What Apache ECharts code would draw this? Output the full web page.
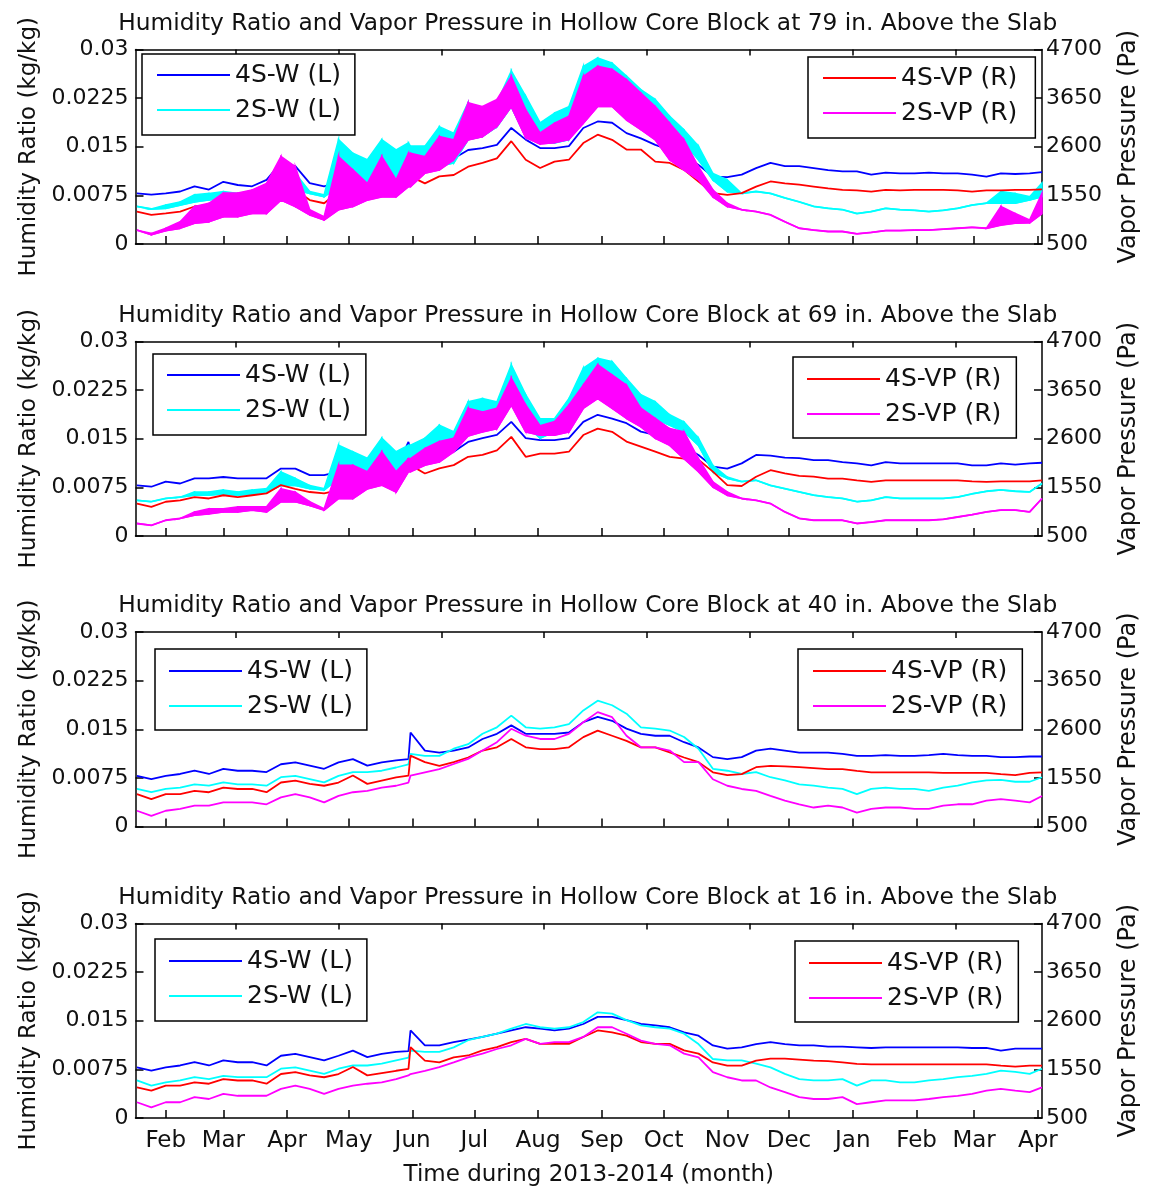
<!DOCTYPE html>
<html>
<head>
<meta charset="utf-8">
<script src="https://cdn.jsdelivr.net/npm/echarts@6/dist/echarts.min.js"></script>
<style>
  html, body { margin: 0; padding: 0; background: #fff; }
  #chart { width: 1152px; height: 1190px; }
</style>
</head>
<body>
<div id="chart"></div>
<script>
// Sample days, counted from 1 Jan 2013 (day 0)
const days = [17,24,31,38,45,52,59,66,73,80,87,94,101,108,115,122,129,136,143,149,150,157,164,171,178,185,192,199,206,213,220,227,234,241,248,255,262,269,276,283,290,297,304,311,318,325,332,339,346,353,360,367,374,381,388,395,402,409,416,423,430,437,444,451,457];

// Month ticks on the time axis (first day of each month)
const monthTickDays = [31,59,90,120,151,181,212,243,273,304,334,365,396,424,455];
const monthLabels = ['Feb','Mar','Apr','May','Jun','Jul','Aug','Sep','Oct','Nov','Dec','Jan','Feb','Mar','Apr'];
// Minor ticks along the top edge (every 50 days)
const topTickDays = [65,115,165,215,265,315,365,415];

// Left axis: humidity ratio (kg/kg); right axis: vapor pressure (Pa)
const wTicks = [0, 0.0075, 0.015, 0.0225, 0.03];
const wTickLabels = ['0', '0.0075', '0.015', '0.0225', '0.03'];
const vpTicks = [500, 1550, 2600, 3650, 4700];
const vpTickLabels = ['500', '1550', '2600', '3650', '4700'];

const sensorHeights = ['79', '69', '40', '16'];

// ---- 79 in. above the slab (2S series show daily swings: low / high envelopes) ----
const w4s79 = [0.0078,0.0076,0.0078,0.0081,0.0089,0.0084,0.0096,0.0091,0.0089,0.0099,0.0125,0.0120,0.0094,0.0089,0.0096,0.0091,0.0102,0.0109,0.0099,
  0.0120,0.0145,
  0.0122,0.0130,0.0132,0.0145,0.0148,0.0153,0.0179,0.0161,0.0148,0.0148,0.0151,0.0179,
  0.0189,0.0187,0.0171,0.0163,0.0153,0.0145,0.0138,0.0122,0.0104,0.0103,
  0.0107,0.0117,0.0125,0.0120,0.0120,0.0117,0.0114,0.0112,0.0112,0.0107,0.0110,0.0109,0.0109,0.0110,0.0109,0.0109,0.0107,0.0104,0.0109,0.0108,0.0109,0.0111];
const w2sLo79 = [0.0058,0.0054,0.0055,0.0060,0.0065,0.0068,0.0071,0.0068,0.0071,0.0073,0.0089,0.0084,0.0078,0.0073,0.0089,0.0084,0.0089,0.0099,0.0104,
  0.0109,0.0109,
  0.0114,0.0120,0.0125,0.0161,0.0166,0.0181,0.0212,0.0166,0.0156,0.0156,0.0161,0.0197,
  0.0238,0.0228,0.0207,0.0192,0.0181,0.0166,0.0156,0.0130,0.0099,0.0081,
  0.0078,0.0081,0.0078,0.0071,0.0065,0.0058,0.0055,0.0053,0.0047,0.0050,0.0055,0.0053,0.0052,0.0050,0.0052,0.0055,0.0060,0.0063,0.0063,0.0063,0.0068,0.0073];
const w2sHi79 = [0.0058,0.0054,0.0060,0.0065,0.0076,0.0078,0.0081,0.0078,0.0081,0.0089,0.0120,0.0109,0.0081,0.0076,0.0161,0.0140,0.0130,0.0161,0.0145,
  0.0156,0.0151,
  0.0151,0.0181,0.0171,0.0218,0.0207,0.0218,0.0267,0.0228,0.0187,0.0202,0.0212,0.0274,
  0.0287,0.0279,0.0259,0.0238,0.0223,0.0197,0.0176,0.0151,0.0109,0.0099,
  0.0078,0.0081,0.0078,0.0071,0.0065,0.0058,0.0055,0.0053,0.0047,0.0050,0.0055,0.0053,0.0052,0.0050,0.0052,0.0055,0.0060,0.0063,0.0081,0.0078,0.0073,0.0094];
const vp4s79 = [1200,1130,1160,1200,1310,1340,1380,1380,1450,1490,1810,1670,1450,1380,1630,1700,1600,1810,1670,
  1890,1960,
  1810,1960,1990,2170,2250,2350,2720,2320,2140,2280,2320,2680,
  2860,2750,2540,2540,2280,2250,2100,1850,1600,1560,
  1600,1740,1850,1810,1780,1740,1700,1670,1660,1630,1670,1660,1670,1670,1670,1660,1630,1660,1660,1670,1670,1680];
const vp2sLo79 = [800,700,790,840,950,980,1090,1090,1160,1160,1450,1310,1130,1020,1240,1310,1450,1520,1520,
  1740,1740,
  2030,2100,2320,2750,2820,3040,3470,2800,2660,2690,2760,3110,
  3470,3470,3180,2970,2750,2320,2100,1890,1520,1310,
  1240,1200,1130,980,840,800,770,770,720,750,790,790,800,800,820,840,860,840,910,950,960,1160];
const vp2sHi79 = [800,730,840,980,1310,1380,1600,1600,1670,1810,2390,2170,1240,1090,2390,2100,1810,2390,1890,
  2460,2460,
  2390,2820,2750,3550,3470,3620,4120,3400,2900,3110,3260,4120,
  4340,4270,4050,3760,3470,3110,2750,2170,1670,1380,
  1240,1200,1130,980,840,800,770,770,720,750,790,790,800,800,820,840,860,840,1310,1160,1020,1600];

// ---- 69 in. above the slab ----
const w4s69 = [0.0078,0.0076,0.0084,0.0081,0.0089,0.0089,0.0091,0.0089,0.0089,0.0089,0.0104,0.0104,0.0094,0.0094,0.0099,0.0099,0.0104,0.0114,0.0104,
  0.0145,0.0130,
  0.0122,0.0125,0.0130,0.0145,0.0151,0.0156,0.0176,0.0151,0.0148,0.0148,0.0151,0.0176,
  0.0187,0.0181,0.0174,0.0161,0.0156,0.0145,0.0138,0.0125,0.0107,0.0104,
  0.0112,0.0125,0.0124,0.0121,0.0120,0.0117,0.0117,0.0114,0.0112,0.0109,0.0114,0.0112,0.0112,0.0112,0.0112,0.0112,0.0109,0.0109,0.0112,0.0110,0.0112,0.0113];
const w2sLo69 = [0.0055,0.0053,0.0058,0.0060,0.0063,0.0063,0.0065,0.0063,0.0065,0.0068,0.0078,0.0078,0.0073,0.0071,0.0089,0.0089,0.0094,0.0099,0.0099,
  0.0109,0.0112,
  0.0120,0.0130,0.0135,0.0161,0.0176,0.0176,0.0212,0.0171,0.0151,0.0161,0.0176,0.0218,
  0.0228,0.0212,0.0207,0.0192,0.0181,0.0171,0.0161,0.0140,0.0099,0.0089,
  0.0084,0.0086,0.0078,0.0073,0.0068,0.0063,0.0060,0.0058,0.0053,0.0055,0.0060,0.0058,0.0058,0.0058,0.0058,0.0060,0.0065,0.0069,0.0071,0.0069,0.0068,0.0081];
const w2sHi69 = [0.0055,0.0053,0.0058,0.0060,0.0068,0.0068,0.0071,0.0068,0.0071,0.0073,0.0099,0.0089,0.0078,0.0073,0.0140,0.0130,0.0120,0.0151,0.0130,
  0.0140,0.0140,
  0.0151,0.0171,0.0161,0.0207,0.0212,0.0207,0.0264,0.0218,0.0181,0.0181,0.0212,0.0259,
  0.0274,0.0269,0.0243,0.0218,0.0207,0.0187,0.0176,0.0151,0.0109,0.0091,
  0.0084,0.0086,0.0078,0.0073,0.0068,0.0063,0.0060,0.0058,0.0053,0.0055,0.0060,0.0058,0.0058,0.0058,0.0058,0.0060,0.0065,0.0069,0.0071,0.0069,0.0068,0.0081];
const vp4s69 = [1200,1130,1240,1270,1340,1310,1380,1340,1380,1420,1600,1520,1450,1420,1490,1600,1670,1960,1670,
  2170,2030,
  1850,1960,2030,2210,2250,2350,2640,2210,2280,2280,2320,2680,
  2820,2750,2540,2430,2320,2210,2170,2150,1890,1600,
  1580,1780,1920,1850,1800,1780,1740,1740,1700,1670,1700,1700,1700,1700,1700,1700,1680,1670,1680,1680,1680,1700];
const vp2sLo69 = [770,730,840,880,950,980,1020,1020,1060,1020,1240,1240,1160,1060,1310,1310,1520,1600,1450,
  1890,1890,
  2030,2100,2320,2660,2750,2820,3330,2750,2680,2680,2750,3260,
  3470,3260,3040,2860,2610,2460,2170,1890,1560,1380,
  1310,1270,1200,1020,880,840,840,840,770,800,840,840,840,840,860,910,960,1020,1060,1060,1020,1310];
const vp2sHi69 = [770,730,840,880,1020,1090,1090,1130,1130,1130,1520,1450,1240,1090,2030,2030,1890,2320,1890,
  2170,2170,
  2390,2540,2610,3260,3180,3260,3910,3330,2880,2970,3330,3760,
  4200,3980,3760,3260,3040,2820,2750,2170,1670,1450,
  1310,1270,1200,1020,880,840,840,840,770,800,840,840,840,840,860,910,960,1020,1060,1060,1020,1310];

// ---- 40 in. above the slab ----
const w4s40 = [0.0078,0.0073,0.0078,0.0081,0.0086,0.0081,0.0089,0.0086,0.0086,0.0084,0.0096,0.0099,0.0094,0.0089,0.0099,0.0104,0.0094,0.0099,0.0102,
  0.0104,0.0145,
  0.0117,0.0114,0.0117,0.0122,0.0135,0.0143,0.0156,0.0143,0.0143,0.0143,0.0145,0.0161,
  0.0169,0.0163,0.0151,0.0143,0.0140,0.0140,0.0130,0.0122,0.0107,0.0104,
  0.0107,0.0117,0.0120,0.0117,0.0114,0.0114,0.0114,0.0112,0.0109,0.0109,0.0110,0.0109,0.0109,0.0110,0.0112,0.0110,0.0109,0.0109,0.0107,0.0107,0.0108,0.0108];
const w2s40 = [0.0058,0.0053,0.0058,0.0060,0.0065,0.0063,0.0068,0.0065,0.0065,0.0063,0.0076,0.0078,0.0073,0.0068,0.0078,0.0084,0.0084,0.0086,0.0091,
  0.0096,0.0112,
  0.0109,0.0109,0.0120,0.0127,0.0143,0.0153,0.0171,0.0153,0.0151,0.0153,0.0158,0.0179,
  0.0194,0.0187,0.0174,0.0153,0.0151,0.0148,0.0138,0.0120,0.0089,0.0086,
  0.0081,0.0084,0.0076,0.0071,0.0065,0.0063,0.0060,0.0058,0.0050,0.0058,0.0060,0.0058,0.0058,0.0055,0.0060,0.0063,0.0068,0.0071,0.0072,0.0069,0.0069,0.0076];
const vp4s40 = [1200,1090,1200,1200,1270,1240,1340,1310,1310,1240,1450,1490,1420,1380,1450,1600,1420,1490,1560,
  1600,2030,
  1890,1810,1890,1990,2140,2210,2390,2210,2170,2170,2210,2430,
  2570,2460,2350,2210,2210,2100,1990,1890,1670,1610,
  1630,1780,1810,1800,1780,1760,1740,1740,1700,1670,1670,1670,1670,1670,1660,1660,1660,1660,1630,1610,1660,1670];
const vp2s40 = [840,730,840,880,950,950,1020,1020,1020,980,1130,1200,1130,1020,1160,1240,1270,1340,1380,
  1450,1600,
  1670,1740,1850,1960,2140,2320,2610,2460,2390,2390,2500,2750,
  2970,2860,2460,2210,2210,2140,1890,1890,1520,1380,
  1310,1270,1160,1060,980,910,950,910,800,880,910,910,880,880,950,980,980,1060,1090,1060,1020,1160];

// ---- 16 in. above the slab ----
const w4s16 = [0.0078,0.0073,0.0078,0.0081,0.0086,0.0081,0.0089,0.0086,0.0086,0.0081,0.0096,0.0099,0.0094,0.0089,0.0096,0.0104,0.0094,0.0099,0.0102,
  0.0103,0.0135,
  0.0112,0.0112,0.0117,0.0121,0.0125,0.0130,0.0135,0.0140,0.0138,0.0135,0.0138,0.0145,
  0.0156,0.0156,0.0151,0.0145,0.0143,0.0140,0.0132,0.0127,0.0112,0.0107,
  0.0109,0.0114,0.0117,0.0114,0.0112,0.0112,0.0110,0.0110,0.0109,0.0108,0.0109,0.0109,0.0109,0.0109,0.0109,0.0109,0.0108,0.0108,0.0104,0.0107,0.0107,0.0107];
const w2s16 = [0.0058,0.0050,0.0055,0.0058,0.0063,0.0060,0.0065,0.0063,0.0063,0.0063,0.0076,0.0078,0.0073,0.0068,0.0076,0.0081,0.0081,0.0084,0.0089,
  0.0093,0.0104,
  0.0102,0.0102,0.0109,0.0120,0.0125,0.0130,0.0138,0.0145,0.0140,0.0138,0.0140,0.0148,
  0.0163,0.0161,0.0151,0.0143,0.0140,0.0138,0.0130,0.0114,0.0091,0.0089,
  0.0089,0.0084,0.0078,0.0068,0.0060,0.0058,0.0058,0.0060,0.0050,0.0058,0.0058,0.0055,0.0055,0.0058,0.0060,0.0063,0.0065,0.0068,0.0073,0.0071,0.0068,0.0076];
const vp4s16 = [1160,1090,1200,1200,1270,1240,1340,1310,1310,1240,1450,1490,1420,1380,1450,1600,1420,1470,1520,
  1560,2030,
  1740,1700,1810,1850,1960,2030,2140,2210,2100,2100,2100,2250,
  2390,2350,2280,2140,2100,2100,1960,1890,1700,1630,
  1630,1740,1780,1780,1760,1740,1730,1700,1670,1660,1660,1660,1660,1660,1660,1660,1660,1660,1630,1610,1630,1630];
const vp2s16 = [840,730,840,840,950,910,1020,980,980,980,1130,1200,1130,1020,1130,1200,1240,1270,1340,
  1420,1450,
  1520,1600,1700,1810,1890,1990,2070,2210,2100,2140,2140,2250,
  2460,2460,2320,2170,2100,2070,1890,1810,1490,1380,
  1310,1310,1160,1060,950,910,910,950,800,840,880,880,880,910,950,980,1020,1090,1130,1090,1060,1160];

const panels = [
  { w4: w4s79, w2: w2sLo79, w2Hi: w2sHi79, vp4: vp4s79, vp2: vp2sLo79, vp2Hi: vp2sHi79 },
  { w4: w4s69, w2: w2sLo69, w2Hi: w2sHi69, vp4: vp4s69, vp2: vp2sLo69, vp2Hi: vp2sHi69 },
  { w4: w4s40, w2: w2s40, vp4: vp4s40, vp2: vp2s40 },
  { w4: w4s16, w2: w2s16, vp4: vp4s16, vp2: vp2s16 }
];

// ---- layout ----
const FONT = 'DejaVu Sans';
const INK = '#111';
const plotLeft = 135.5, plotWidth = 906.5, plotHeight = 194.5;
const panelTops = [49.5, 341.5, 632, 923.5];
const xMin = 16.3, xMax = 457;
const BLUE = '#0000ff', CYAN = '#00ffff', RED = '#ff0000', MAGENTA = '#ff00ff';
const NAME_W4 = '4S-W (L)', NAME_W2 = '2S-W (L)', NAME_VP4 = '4S-VP (R)', NAME_VP2 = '2S-VP (R)';

const legendBoxes = [
  [{ left: 142, top: 54, pad: [6, 14, 10, 15] }, { left: 808, top: 57, pad: [6, 18, 10, 15] }],
  [{ left: 153, top: 354, pad: [6, 15, 10, 14] }, { left: 793, top: 357, pad: [7, 15, 9, 14] }],
  [{ left: 155, top: 649, pad: [7, 14, 9, 14] }, { left: 798, top: 649, pad: [7, 15, 9, 15] }],
  [{ left: 155, top: 939, pad: [7, 14, 10, 14] }, { left: 795, top: 941, pad: [7, 15, 9, 14] }]
];

function nearestLabel(v, ticks, labels) {
  let best = 0;
  for (let i = 1; i < ticks.length; i++) {
    if (Math.abs(ticks[i] - v) < Math.abs(ticks[best] - v)) best = i;
  }
  return labels[best];
}

const frameLine = { show: true, onZero: false, lineStyle: { color: '#000', width: 1.5 } };
const tickStyle = { color: '#000', width: 1.5 };

const grid = [], xAxis = [], yAxis = [], title = [], legend = [], series = [];

panels.forEach((p, k) => {
  const top = panelTops[k];
  grid.push({ left: plotLeft, top: top, width: plotWidth, height: plotHeight, containLabel: false, outerBoundsMode: 'none' });

  title.push({
    text: 'Humidity Ratio and Vapor Pressure in Hollow Core Block at ' + sensorHeights[k] + ' in. Above the Slab',
    left: plotLeft + plotWidth / 2 - 1, top: top - 40, textAlign: 'center', padding: 0,
    textStyle: { fontFamily: FONT, fontSize: 23.3, fontWeight: 'normal', color: INK, lineHeight: 28 }
  });

  const isLast = k === panels.length - 1;
  // bottom time axis (month ticks)
  xAxis.push({
    type: 'value', gridIndex: k, position: 'bottom', min: xMin, max: xMax,
    axisLine: frameLine,
    axisTick: { show: true, inside: true, length: 8, customValues: monthTickDays, lineStyle: tickStyle },
    axisLabel: {
      show: isLast, customValues: monthTickDays, margin: 12,
      fontFamily: FONT, fontSize: 23, color: INK,
      formatter: v => nearestLabel(v, monthTickDays, monthLabels)
    },
    splitLine: { show: false },
    name: isLast ? 'Time during 2013-2014 (month)' : '',
    nameLocation: 'middle', nameGap: 46,
    nameTextStyle: { fontFamily: FONT, fontSize: 23, color: INK }
  });

  // left axis: humidity ratio
  yAxis.push({
    type: 'value', gridIndex: k, position: 'left', min: 0, max: 0.03,
    axisLine: frameLine,
    axisTick: { show: true, inside: true, length: 8, customValues: wTicks, lineStyle: tickStyle },
    axisLabel: {
      customValues: wTicks, margin: 7, fontFamily: FONT, fontSize: 22, color: INK,
      formatter: v => nearestLabel(v, wTicks, wTickLabels)
    },
    splitLine: { show: false },
    name: 'Humidity Ratio (kg/kg)', nameLocation: 'middle', nameRotate: 90, nameGap: 94,
    nameTextStyle: { fontFamily: FONT, fontSize: 23, color: INK }
  });
});

panels.forEach((p, k) => {
  // top edge of each frame
  xAxis.push({
    type: 'value', gridIndex: k, position: 'top', min: xMin, max: xMax,
    axisLine: frameLine,
    axisTick: { show: true, inside: true, length: 6, customValues: topTickDays, lineStyle: tickStyle },
    axisLabel: { show: false },
    splitLine: { show: false }
  });
  // right axis: vapor pressure
  yAxis.push({
    type: 'value', gridIndex: k, position: 'right', min: 500, max: 4700,
    axisLine: frameLine,
    axisTick: { show: true, inside: true, length: 8, customValues: vpTicks, lineStyle: tickStyle },
    axisLabel: {
      customValues: vpTicks, margin: 4, fontFamily: FONT, fontSize: 22, color: INK,
      formatter: v => nearestLabel(v, vpTicks, vpTickLabels)
    },
    splitLine: { show: false },
    name: 'Vapor Pressure (Pa)', nameLocation: 'middle', nameRotate: 90, nameGap: 75,
    nameTextStyle: { fontFamily: FONT, fontSize: 24, color: INK }
  });
});

function pts(vals) { return days.map((d, i) => [d, vals[i]]); }

function lineSeries(name, color, k, yIdx, vals, z) {
  return {
    type: 'line', name: name, xAxisIndex: k, yAxisIndex: yIdx, data: pts(vals),
    symbol: 'none', showSymbol: false, silent: true, z: z,
    lineStyle: { color: color, width: 1.8 }, itemStyle: { color: color }
  };
}

// daily-swing envelope: filled band between the low and high readings
function bandSeries(color, k, yIdx, lo, hi, z) {
  return {
    type: 'custom', xAxisIndex: k, yAxisIndex: yIdx, silent: true, clip: true, z: z,
    data: days.map((d, i) => [d, lo[i], hi[i]]),
    encode: { x: 0, y: [1, 2] },
    renderItem: (params, api) => {
      const i = params.dataIndex;
      if (i >= days.length - 1) return null;
      const poly = [
        api.coord([days[i], hi[i]]),
        api.coord([days[i + 1], hi[i + 1]]),
        api.coord([days[i + 1], lo[i + 1]]),
        api.coord([days[i], lo[i]])
      ];
      return {
        type: 'polygon', shape: { points: poly },
        style: { fill: color, stroke: color, lineWidth: 1.5 }
      };
    }
  };
}

// drawing order: 4S-W, 2S-W, 4S-VP, 2S-VP (right-axis curves on top)
panels.forEach((p, k) => {
  const yR = k + panels.length;
  series.push(lineSeries(NAME_W4, BLUE, k, k, p.w4, 1));
  if (p.w2Hi) series.push(bandSeries(CYAN, k, k, p.w2, p.w2Hi, 2));
  series.push(lineSeries(NAME_W2, CYAN, k, k, p.w2, 2));
  series.push(lineSeries(NAME_VP4, RED, k, yR, p.vp4, 3));
  if (p.vp2Hi) series.push(bandSeries(MAGENTA, k, yR, p.vp2, p.vp2Hi, 4));
  series.push(lineSeries(NAME_VP2, MAGENTA, k, yR, p.vp2, 4));

  const boxes = legendBoxes[k];
  [[NAME_W4, NAME_W2], [NAME_VP4, NAME_VP2]].forEach((names, j) => {
    const b = boxes[j];
    legend.push({
      data: names, orient: 'vertical', left: b.left, top: b.top, padding: b.pad,
      itemGap: 5, itemWidth: 73, itemHeight: 2, icon: 'rect', selectedMode: false, z: 10,
      backgroundColor: '#fff', borderColor: '#000', borderWidth: 1.5, borderRadius: 0,
      textStyle: { fontFamily: FONT, fontSize: 25, lineHeight: 30, color: INK }
    });
  });
});

const chart = echarts.init(document.getElementById('chart'), null, { renderer: 'canvas' });
chart.setOption({
  animation: false,
  backgroundColor: '#fff',
  textStyle: { fontFamily: FONT },
  title: title,
  legend: legend,
  grid: grid,
  xAxis: xAxis,
  yAxis: yAxis,
  series: series
});
</script>
</body>
</html>
